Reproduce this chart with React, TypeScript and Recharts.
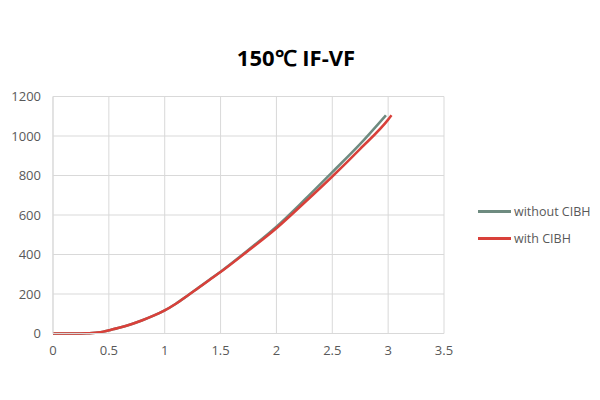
import { LineChart, Line, XAxis, YAxis, CartesianGrid } from 'recharts';

const xTicks = [0, 0.5, 1, 1.5, 2, 2.5, 3, 3.5];
const yTicks = [0, 200, 400, 600, 800, 1000, 1200];

// forward voltage (V) vs forward current (A)
const vfWithout = [0, 0.2, 0.25, 0.3, 0.35, 0.4, 0.45, 0.5, 0.6, 0.7, 0.8, 0.9, 1.0, 1.1, 1.2, 1.3, 1.4, 1.5, 1.75, 2.0, 2.25, 2.5, 2.75, 2.98];
const ifWithout = [0, 0, 0.3, 1, 2.5, 5, 9.5, 16, 30, 47, 67, 90, 117, 151, 190, 231, 272, 313, 424, 541, 676, 817, 960, 1105];

const vfWith = [0, 0.2, 0.25, 0.3, 0.35, 0.4, 0.45, 0.5, 0.6, 0.7, 0.8, 0.9, 1.0, 1.1, 1.2, 1.3, 1.4, 1.5, 1.75, 2.0, 2.25, 2.5, 2.75, 3.0, 3.03];
const ifWith = [0, 0, 0.3, 1, 2.5, 5, 9.5, 16, 30, 47, 67, 90, 117, 151, 190, 230, 271, 311, 420, 533, 662, 795, 935, 1083, 1105];

const seriesNames = ['without CIBH', 'with CIBH'];
const seriesColors = ['#6e8b80', '#d9403a'];

const withoutData = vfWithout.map((v, i) => ({ vf: v, current: ifWithout[i] }));
const withData = vfWith.map((v, i) => ({ vf: v, current: ifWith[i] }));

const tickStyle = { fill: '#595959', fontSize: 13, fontFamily: 'Open Sans, sans-serif' };

export default function App() {
  return (
    <div style={{ position: 'relative', width: 600, height: 400, background: '#fff' }}>
      <style>{`body{margin:0}`}</style>
      <div
        style={{
          position: 'absolute',
          top: 42,
          left: -4,
          width: 600,
          textAlign: 'center',
          fontFamily: 'Open Sans, sans-serif',
          fontWeight: 700,
          fontSize: 22,
          color: '#000',
        }}
      >
        150℃ IF-VF
      </div>
      <div
        style={{
          position: 'absolute',
          left: 478,
          top: 198,
          fontFamily: 'Open Sans, sans-serif',
          fontSize: 12.5,
          color: '#595959',
        }}
      >
        {seriesNames.map((name, i) => (
          <div key={name} style={{ display: 'flex', alignItems: 'center', height: 27 }}>
            <span style={{ display: 'inline-block', width: 33, height: 2.5, background: seriesColors[i], marginRight: 3 }} />
            <span>{name}</span>
          </div>
        ))}
      </div>
      <LineChart width={600} height={400} margin={{ top: 96.5, right: 156, left: 8, bottom: 36.5 }}>
        <CartesianGrid stroke="#d9d9d9" />
        <XAxis
          type="number"
          dataKey="vf"
          domain={[0, 3.5]}
          ticks={xTicks}
          allowDuplicatedCategory={false}
          tick={tickStyle}
          tickLine={false}
          axisLine={{ stroke: '#d9d9d9' }}
          tickMargin={6}
          height={30}
        />
        <YAxis
          type="number"
          domain={[0, 1200]}
          ticks={yTicks}
          tick={tickStyle}
          tickLine={false}
          axisLine={{ stroke: '#d9d9d9' }}
          tickMargin={6}
          width={45}
        />
        <Line
          data={withoutData}
          dataKey="current"
          name={seriesNames[0]}
          type="monotone"
          stroke={seriesColors[0]}
          strokeWidth={2.5}
          dot={false}
          isAnimationActive={false}
        />
        <Line
          data={withData}
          dataKey="current"
          name={seriesNames[1]}
          type="monotone"
          stroke={seriesColors[1]}
          strokeWidth={2.5}
          dot={false}
          isAnimationActive={false}
        />
      </LineChart>
    </div>
  );
}
